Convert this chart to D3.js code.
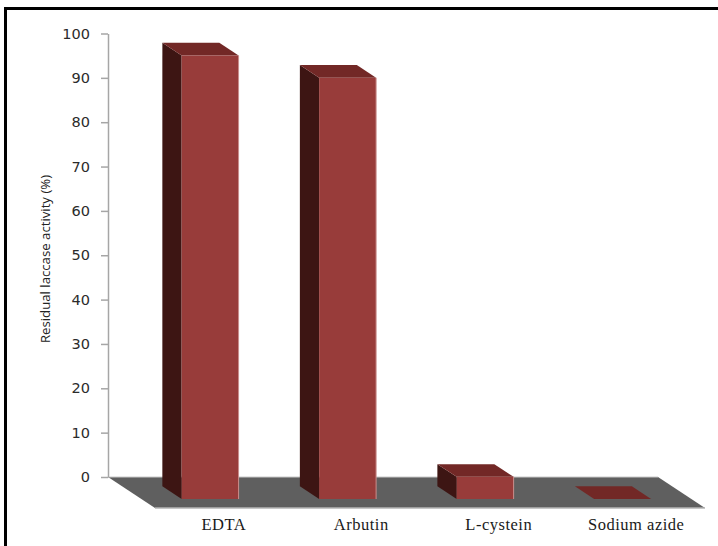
<!DOCTYPE html>
<html>
<head>
<meta charset="utf-8">
<script src="https://cdn.jsdelivr.net/npm/d3@7"></script>
<style>
  html, body { margin: 0; padding: 0; background: #fff; }
  svg { display: block; }
</style>
</head>
<body>
<div id="chart"></div>
<script>
const categories = ["EDTA", "Arbutin", "L-cystein", "Sodium azide"];
const activity = [100, 95, 5, 0];
const yTicks = [0, 10, 20, 30, 40, 50, 60, 70, 80, 90, 100];

const width = 718, height = 546;

const svg = d3.select("#chart").append("svg")
    .attr("width", width)
    .attr("height", height);

// open frame, only top and left are ruled
svg.append("path")
    .attr("d", "M5.5,546V8.5H718")
    .attr("fill", "none")
    .attr("stroke", "#000")
    .attr("stroke-width", 3);

const y = d3.scaleLinear().domain([0, 100]).range([477, 33.5]);
const x = d3.scaleBand().domain(categories).range([108, 658])
    .paddingInner(0.5857)
    .paddingOuter(0.2927);

// oblique projection of the floor depth
const depth = {x: 47, y: 31};
const barNear = 0.71, barFar = 0.3;
const project = (px, py, t) => [px + depth.x * t, py + depth.y * t];
const line = d3.line();

// floor
const floor = [
    project(x.range()[0], y(0), 0),
    project(x.range()[1], y(0), 0),
    project(x.range()[1], y(0), 1),
    project(x.range()[0], y(0), 1)
];
svg.append("path")
    .attr("d", line(floor) + "Z")
    .attr("fill", "#5f5f5f");
svg.append("path")
    .attr("d", line([floor[3], floor[2]]))
    .attr("stroke", "#b4b4b4")
    .attr("stroke-width", 1.5);
svg.append("path")
    .attr("d", line([floor[0], floor[1]]))
    .attr("stroke", "#c8c8c8")
    .attr("stroke-width", 1);

// value axis
const axis = svg.append("g")
    .attr("transform", "translate(108,0)")
    .call(d3.axisLeft(y).tickValues(yTicks).tickSize(7).tickSizeOuter(0).tickPadding(11));
axis.selectAll("path, line")
    .attr("stroke", "#a6a6a6")
    .attr("stroke-width", 1.5);
axis.selectAll("text")
    .attr("fill", "#2b2b2b")
    .style("font-family", "'DejaVu Sans', sans-serif")
    .style("font-size", "14.5px");

svg.append("text")
    .attr("transform", "translate(50,259) rotate(-90)")
    .attr("text-anchor", "middle")
    .attr("fill", "#222")
    .style("font-family", "'Open Sans', sans-serif")
    .style("font-size", "13.2px")
    .text("Residual laccase activity (%)");

// bars, drawn side, top, then front
const bars = svg.selectAll("g.bar")
    .data(categories.map((name, i) => ({name, value: activity[i]})))
    .join("g")
    .attr("class", "bar");

const faces = (d) => {
    const x0 = x(d.name), x1 = x0 + x.bandwidth();
    const base = y(0), top = y(d.value);
    return {
        side: [project(x0, base, barFar), project(x0, top, barFar), project(x0, top, barNear), project(x0, base, barNear)],
        top: [project(x0, top, barFar), project(x1, top, barFar), project(x1, top, barNear), project(x0, top, barNear)],
        front: [project(x0, top, barNear), project(x1, top, barNear), project(x1, base, barNear), project(x0, base, barNear)],
        edge: [project(x1, top, barNear), project(x1, base, barNear)]
    };
};

bars.append("path")
    .attr("d", (d) => line(faces(d).side) + "Z")
    .attr("fill", "#3d1513");
bars.append("path")
    .attr("d", (d) => line(faces(d).top) + "Z")
    .attr("fill", "#722826");
bars.filter((d) => d.value > 0).append("path")
    .attr("d", (d) => line(faces(d).front) + "Z")
    .attr("fill", "#983c3a");
bars.filter((d) => d.value > 0).append("path")
    .attr("d", (d) => line(faces(d).edge))
    .attr("stroke", "#c98f8d")
    .attr("stroke-width", 1);

// category labels sit under the front edge of the floor
svg.selectAll("text.category")
    .data(categories)
    .join("text")
    .attr("class", "category")
    .attr("x", (d) => x(d) + x.bandwidth() / 2 + depth.x)
    .attr("y", 530)
    .attr("text-anchor", "middle")
    .attr("fill", "#1a1a1a")
    .style("font-family", "'Liberation Serif', serif")
    .style("font-size", "16.5px")
    .style("letter-spacing", "0.5px")
    .text((d) => d);
</script>
</body>
</html>
